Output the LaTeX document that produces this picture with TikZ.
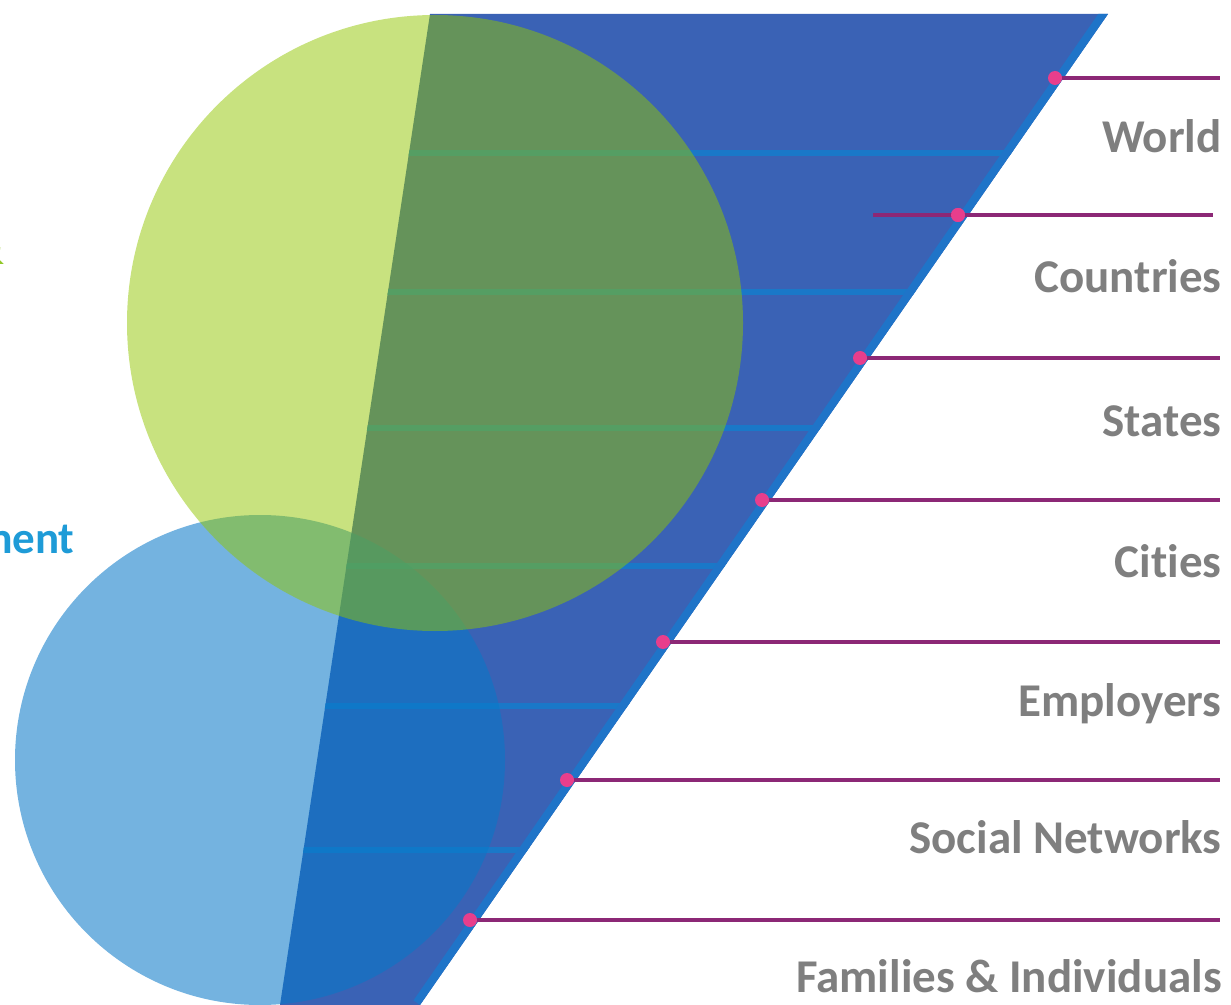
\documentclass[tikz,border=0pt]{standalone}
\usepackage{fontspec}
\setmainfont{Carlito}[Ligatures=NoCommon]
\definecolor{trapblue}{RGB}{58,98,181}
\definecolor{edgeblue}{RGB}{31,116,200}
\definecolor{bandblue}{RGB}{26,120,200}
\definecolor{ringblue}{RGB}{7,120,200}
\definecolor{ringgreen}{RGB}{145,197,0}
\definecolor{tiepurple}{RGB}{140,40,118}
\definecolor{dotpink}{RGB}{232,62,140}
\definecolor{labgray}{RGB}{127,127,127}
\definecolor{sideblue}{RGB}{30,155,215}
\definecolor{sidegreen}{RGB}{146,200,40}
\begin{document}
\begin{tikzpicture}[x=0.5pt,y=-0.5pt,
  lab/.style={anchor=base east,inner sep=0pt,text=labgray,
    font=\fontsize{23.5}{28}\selectfont\bfseries},
  side/.style={anchor=base east,inner sep=0pt,
    font=\fontsize{22.5}{27}\selectfont\bfseries},
  dot/.style={circle,fill=dotpink,inner sep=0pt,minimum size=7pt},
  tie/.style={draw=tiepurple,line width=1.7pt}]
\useasboundingbox (0,0) rectangle (1231,1005);
% the funnel
\fill[trapblue] (430,14)--(1108,14)--(420,1005)--(280,1005)--cycle;
\begin{scope}
\clip (430,14)--(1108,14)--(420,1005)--(280,1005)--cycle;
\foreach \y in {153,292,428,566,706,850}
  \draw[bandblue,line width=3pt] (200,\y)--(1200,\y);
\draw[edgeblue,line width=8pt] (1108,14)--(420,1005);
\end{scope}
% the two circles
\fill[ringblue,opacity=0.56] (260,760) circle[radius=122.5pt];
\fill[ringgreen,opacity=0.5] (435,323) circle[radius=154pt];
% level markers
\coordinate (s2) at (873,215);
\foreach \n/\x/\y/\e in {1/1055/78/1220,2/958/215/1213,3/860/358/1220,
    4/762/500/1220,5/663/642/1220,6/567/780/1220,7/470/920/1220}{
  \coordinate (e\n) at (\e,\y);
  \node[dot] (d\n) at (\x,\y) {};
}
\draw[tie] (s2)--(e2);
\foreach \n in {1,3,4,5,6,7}
  \draw[tie] (d\n)--(e\n);
\node[dot] at (d2) {};
% level names
\node[lab] (world) at (1222,153) {World};
\node[lab] (countries) at (1222,293) {Countries};
\node[lab] (states) at (1222,437) {States};
\node[lab] (cities) at (1222,577) {Cities};
\node[lab] (employers) at (1222,716) {Employers};
\node[lab] (social) at (1222,853) {Social Networks};
\node[lab] (families) at (1222,992) {Families \& Individuals};
% side captions
\node[side,text=sidegreen] (cap1) at (5,265) {\&};
\node[side,text=sideblue] (cap2) at (75,553) {ment};
\end{tikzpicture}
\end{document}
